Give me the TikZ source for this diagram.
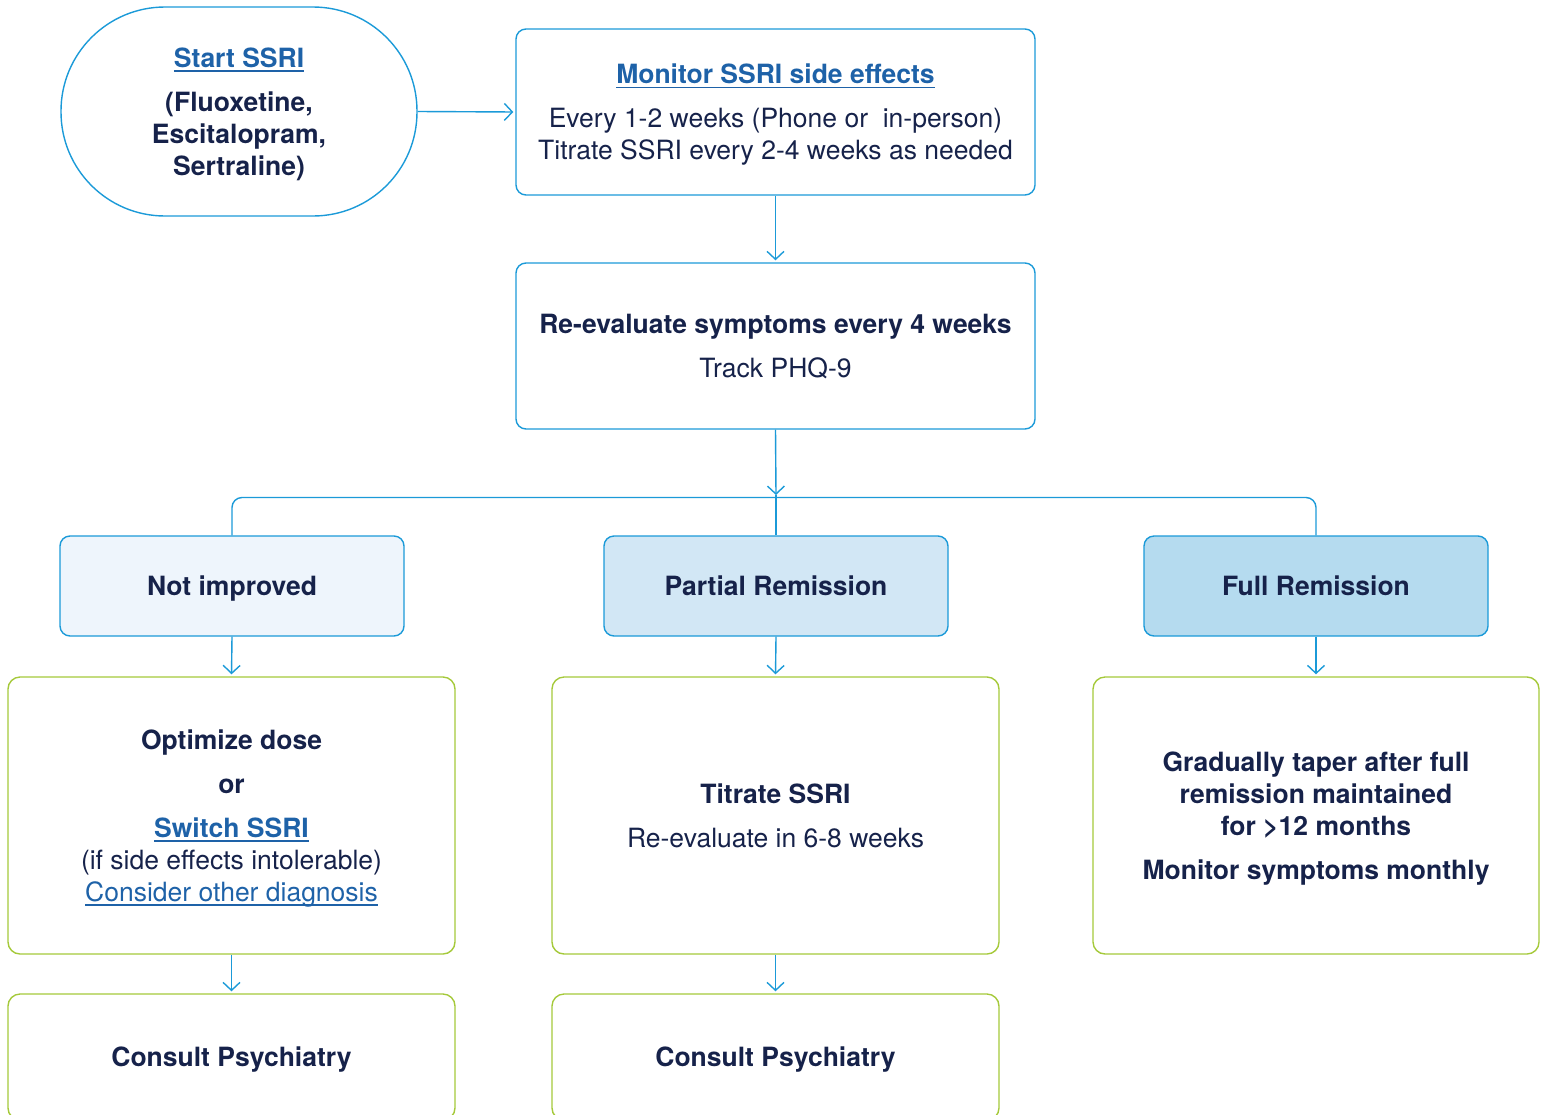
\documentclass[tikz,border=0pt]{standalone}
\usepackage{fontspec}
\setmainfont{TeX Gyre Heros}
\usetikzlibrary{arrows.meta}
\definecolor{navy}{HTML}{16224A}
\definecolor{linkc}{HTML}{1E62A8}
\definecolor{lineb}{HTML}{1B9AD8}
\definecolor{greenb}{HTML}{A5C93A}
\definecolor{fillA}{HTML}{EEF5FC}
\definecolor{fillB}{HTML}{D2E7F5}
\definecolor{fillC}{HTML}{B5DBEF}
\newlength{\lnkw}
\newcommand{\lnk}[1]{\settowidth{\lnkw}{#1}\textcolor{linkc}{\rlap{\rule[-4.5pt]{\lnkw}{1.4pt}}#1}}
\begin{document}
\begin{tikzpicture}[x=1pt,y=-1pt,
  txt/.style={font=\fontsize{26.5}{32}\selectfont, text=navy, align=center, inner sep=0pt, text depth=0pt},
  bluebox/.style={txt, draw=lineb, line width=1.4pt, rounded corners=10pt},
  greenbox/.style={txt, draw=greenb, line width=1.4pt, rounded corners=12pt},
  conn/.style={draw=lineb, line width=1.4pt},
  arr/.style={conn, -{Straight Barb[length=8pt,width=17pt,line width=1.4pt]}, shorten >=2pt}
]
\useasboundingbox (0,0) rectangle (1544,1114);
\clip (0,0) rectangle (1544,1114);

% top row
\node[bluebox, rounded corners=104pt, minimum width=356pt, minimum height=209pt] (start) at (239,111.5)
  {\lnk{\bfseries Start SSRI}\\[12pt]{\bfseries (Fluoxetine,}\\{\bfseries Escitalopram,}\\{\bfseries Sertraline)}};
\node[bluebox, minimum width=519pt, minimum height=166pt] (monitor) at (775.5,112)
  {\lnk{\bfseries Monitor SSRI side effects}\\[12pt]Every 1-2 weeks (Phone or~ in-person)\\Titrate SSRI every 2-4 weeks as needed};
\node[bluebox, minimum width=519pt, minimum height=166pt] (reeval) at (775.5,346)
  {{\bfseries Re-evaluate symptoms every 4 weeks}\\[12pt]Track PHQ-9};

% categories
\node[bluebox, fill=fillA, minimum width=344pt, minimum height=100pt] (notimp) at (232,586) {\bfseries Not improved};
\node[bluebox, fill=fillB, minimum width=344pt, minimum height=100pt] (partial) at (776,586) {\bfseries Partial Remission};
\node[bluebox, fill=fillC, minimum width=344pt, minimum height=100pt] (full) at (1316,586) {\bfseries Full Remission};

% actions
\node[greenbox, minimum width=447pt, minimum height=277pt] (optim) at (231.5,815.5)
  {{\bfseries Optimize dose}\\[12pt]{\bfseries or}\\[12pt]\lnk{\bfseries Switch SSRI}\\(if side effects intolerable)\\\lnk{Consider other diagnosis}};
\node[greenbox, minimum width=447pt, minimum height=277pt] (titr) at (775.5,815.5)
  {{\bfseries Titrate SSRI}\\[12pt]Re-evaluate in 6-8 weeks};
\node[greenbox, minimum width=446pt, minimum height=277pt] (taper) at (1316,815.5)
  {{\bfseries Gradually taper after full}\\{\bfseries remission maintained}\\{\bfseries for >12 months}\\[12pt]{\bfseries Monitor symptoms monthly}};

% consult
\node[greenbox, minimum width=447pt, minimum height=126pt] (consA) at (231.5,1057) {\bfseries Consult Psychiatry};
\node[greenbox, minimum width=447pt, minimum height=126pt] (consB) at (775.5,1057) {\bfseries Consult Psychiatry};

% connectors
\draw[arr] (start.east) -- (monitor.west);
\draw[arr] (monitor.south) -- (reeval.north);
\coordinate (junc) at (776,495);
\draw[arr, shorten >=0pt] (reeval.south) -- (junc);
\draw[conn] (junc) -- (partial.north);
\draw[conn, rounded corners=10pt] (notimp.north) -- (notimp.north |- 0,497.5) -- (full.north |- 0,497.5) -- (full.north);
\draw[arr] (notimp.south) -- (optim.north);
\draw[arr] (partial.south) -- (titr.north);
\draw[arr] (full.south) -- (taper.north);
\draw[arr] (optim.south) -- (consA.north);
\draw[arr] (titr.south) -- (consB.north);
\end{tikzpicture}
\end{document}
